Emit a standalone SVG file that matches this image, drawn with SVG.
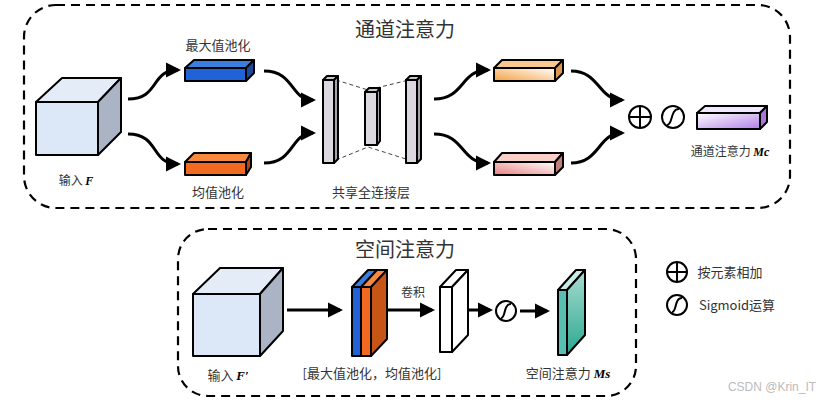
<svg xmlns="http://www.w3.org/2000/svg" width="839" height="402" viewBox="0 0 839 402">
<style>
.box{fill:none;stroke:#000;stroke-width:2.2;stroke-dasharray:9 6}
.s{stroke:#000;stroke-width:2;stroke-linejoin:round}
.t{font-family:"Noto Sans CJK SC","Liberation Serif",serif;fill:#333;text-anchor:middle}
.c{fill:none;stroke:#000;stroke-width:3}
.a{fill:none;stroke:#000;stroke-width:3;marker-end:url(#ah)}
.d{fill:none;stroke:#444;stroke-width:1;stroke-dasharray:4 3}
.sym{fill:#fff;stroke:#000;stroke-width:2}
</style>
<defs>
<marker id="ah" markerWidth="6" markerHeight="6" refX="4" refY="3" orient="auto" markerUnits="strokeWidth"><path d="M0,0.5 L5,3 L0,5.5 Z" fill="#000"/></marker>
<linearGradient id="go" x1="0" y1="1" x2="1" y2="0"><stop offset="0" stop-color="#f5a040"/><stop offset="1" stop-color="#fff"/></linearGradient>
<linearGradient id="gp" x1="0" y1="1" x2="1" y2="0"><stop offset="0" stop-color="#e88080"/><stop offset="1" stop-color="#fff"/></linearGradient>
<linearGradient id="gv" x1="0" y1="0" x2="1" y2="1"><stop offset="0" stop-color="#fff"/><stop offset="1" stop-color="#b080e8"/></linearGradient>
<linearGradient id="gt" x1="0" y1="0" x2="0" y2="1"><stop offset="0" stop-color="#a8dcd0"/><stop offset="1" stop-color="#2aa890"/></linearGradient>
</defs>
<rect class="box" x="24" y="5" width="766" height="203" rx="32"/>
<rect class="box" x="178" y="229" width="458" height="167" rx="30"/>
<text class="t" x="405" y="37" font-size="20">通道注意力</text>
<text class="t" x="405" y="257" font-size="20">空间注意力</text>
<g id="cubeF"><path class="s" d="M36,102 L62,78 L121,78 L98,102 Z" fill="#e4ecf8"/><path class="s" d="M98,102 L121,78 L121,132 L98,155 Z" fill="#aab4c4"/><rect class="s" x="36" y="102" width="62" height="53" fill="#dce8f8"/></g>
<text class="t" x="76" y="185" font-size="12">输入 <tspan font-family="Liberation Serif" font-style="italic" font-weight="bold" fill="#000">F</tspan></text>
<g id="maxpool"><path class="s" d="M185,68 L194,60 L254,60 L246,68 Z" fill="#3a7ee0"/><path class="s" d="M246,68 L254,60 L254,73 L246,81 Z" fill="#1a4aa0"/><rect class="s" x="185" y="68" width="61" height="13" fill="#1f63d6"/></g>
<text class="t" x="218" y="50" font-size="13">最大值池化</text>
<g id="avgpool"><path class="s" d="M185,162 L194,153 L251,153 L246,162 Z" fill="#f88a40"/><path class="s" d="M246,162 L251,153 L251,167 L246,175 Z" fill="#b04818"/><rect class="s" x="185" y="162" width="61" height="13" fill="#f26a20"/></g>
<text class="t" x="218" y="197" font-size="13">均值池化</text>
<g id="fc">
<path class="d" d="M336,80 L368,90 L409,80 M336,160 L368,147 L409,160"/>
<path class="s" d="M323,80 L327,76 L338,76 L334,80 Z" fill="#c8c4cc"/><path class="s" d="M334,80 L338,76 L338,159 L334,163 Z" fill="#a8a4ac"/><rect class="s" x="323" y="80" width="11" height="83" fill="#dcd8e0"/>
<path class="s" d="M365,92 L369,88 L380,88 L377,92 Z" fill="#c8c4cc"/><path class="s" d="M377,92 L380,88 L380,141 L377,145 Z" fill="#a8a4ac"/><rect class="s" x="365" y="92" width="12" height="53" fill="#dcd8e0"/>
<path class="s" d="M406,80 L410,76 L421,76 L417,80 Z" fill="#c8c4cc"/><path class="s" d="M417,80 L421,76 L421,159 L417,163 Z" fill="#a8a4ac"/><rect class="s" x="406" y="80" width="11" height="83" fill="#dcd8e0"/>
</g>
<text class="t" x="371" y="197" font-size="13">共享全连接层</text>
<g id="obar"><path class="s" d="M494,68 L502,60 L563,60 L555,68 Z" fill="#f8c890"/><path class="s" d="M555,68 L563,60 L563,73 L555,81 Z" fill="#d89850"/><rect class="s" x="494" y="68" width="61" height="13" fill="url(#go)"/></g>
<g id="pbar"><path class="s" d="M494,162 L502,153 L563,153 L555,162 Z" fill="#f8d0c8"/><path class="s" d="M555,162 L563,153 L563,167 L555,175 Z" fill="#c08078"/><rect class="s" x="494" y="162" width="61" height="13" fill="url(#gp)"/></g>
<g id="add1"><circle class="sym" cx="640" cy="117" r="11"/><path class="s" d="M629,117 H651 M640,106 V128" fill="none"/></g>
<g id="sig1"><circle class="sym" cx="673" cy="117" r="11"/><path class="s" fill="none" d="M667,125 C673,125 670,109 679,109"/></g>
<g id="mc"><path class="s" d="M697,113 L705,106 L767,106 L760,113 Z" fill="#f0e8fc"/><path class="s" d="M760,113 L767,106 L767,122 L760,129 Z" fill="#a878d8"/><rect class="s" x="697" y="113" width="63" height="16" fill="url(#gv)"/></g>
<text class="t" x="730" y="156" font-size="12">通道注意力 <tspan font-family="Liberation Serif" font-style="italic" font-weight="bold" fill="#000">Mc</tspan></text>
<g id="connectors">
<path class="a" d="M128,99 C160,99 150,70 178,70"/>
<path class="a" d="M128,134 C160,134 150,164 178,164"/>
<path class="a" d="M264,71 C295,71 290,100 313,100"/>
<path class="a" d="M264,163 C295,163 290,133 313,133"/>
<path class="a" d="M434,99 C465,99 460,70 488,70"/>
<path class="a" d="M434,134 C465,134 460,163 488,163"/>
<path class="a" d="M571,71 C600,71 598,100 622,100"/>
<path class="a" d="M571,163 C600,163 598,133 622,133"/>
<path class="a" d="M287,310 H340"/>
<path class="a" d="M380,310 H432"/>
<path class="a" d="M468,310 H490"/>
<path class="a" d="M520,311 H547"/>
</g>
<g id="cubeF2"><path class="s" d="M193,294 L220,268 L283,268 L260,294 Z" fill="#e4ecf8"/><path class="s" d="M260,294 L283,268 L283,331 L260,356 Z" fill="#aab4c4"/><rect class="s" x="193" y="294" width="67" height="62" fill="#dce8f8"/></g>
<text class="t" x="228" y="380" font-size="13">输入 <tspan font-family="Liberation Serif" font-style="italic" font-weight="bold" fill="#000">F′</tspan></text>
<g id="pool2">
<path class="s" d="M352,287 L368,270 L377,270 L361,287 Z" fill="#3a7ee0"/><rect class="s" x="352" y="287" width="9" height="69" fill="#1f63d6"/>
<path class="s" d="M361,287 L377,270 L387,270 L371,287 Z" fill="#f88a40"/><path class="s" d="M371,287 L387,270 L387,339 L371,356 Z" fill="#c85518"/><rect class="s" x="361" y="287" width="10" height="69" fill="#f26a20"/>
</g>
<text class="t" x="372" y="378" font-size="13">[最大值池化，均值池化]</text>
<text class="t" x="413" y="297" font-size="12">卷积</text>
<g id="conv"><path class="s" d="M440,287 L456,270 L468,270 L452,287 Z" fill="#fff"/><path class="s" d="M452,287 L468,270 L468,335 L452,352 Z" fill="#fff"/><rect class="s" x="440" y="287" width="12" height="65" fill="#fff"/></g>
<g id="sig2"><circle class="sym" cx="506" cy="311" r="10"/><path class="s" fill="none" d="M501,318 C506,318 503,304 511,304"/></g>
<g id="ms"><path class="s" d="M558,290 L576,270 L585,270 L567,290 Z" fill="#c8ece4"/><path class="s" d="M567,290 L585,270 L585,335 L567,355 Z" fill="url(#gt)"/><rect class="s" x="558" y="290" width="9" height="65" fill="#58c0b0"/></g>
<text class="t" x="568" y="378" font-size="13">空间注意力 <tspan font-family="Liberation Serif" font-style="italic" font-weight="bold" fill="#000">Ms</tspan></text>
<g id="legend">
<circle class="sym" cx="677" cy="272" r="10"/><path class="s" d="M667,272 H687 M677,262 V282"/>
<text class="t" x="730" y="277" font-size="13">按元素相加</text>
<circle class="sym" cx="677" cy="305" r="10"/><path class="s" fill="none" d="M672,312 C677,312 674,298 682,298"/>
<text class="t" x="737" y="310" font-size="13">Sigmoid运算</text>
</g>
<text x="772" y="391" font-family="Liberation Sans,sans-serif" font-size="12" fill="#bbb" text-anchor="middle">CSDN @Krin_IT</text>
</svg>
